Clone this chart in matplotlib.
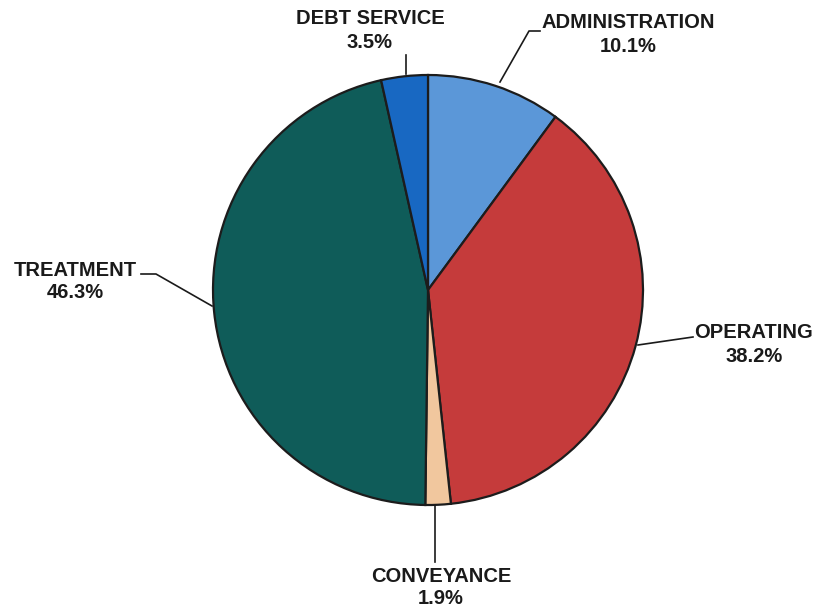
import matplotlib
matplotlib.use("Agg")
import matplotlib.pyplot as plt

categories = ["ADMINISTRATION", "OPERATING", "CONVEYANCE", "TREATMENT", "DEBT SERVICE"]
values = [10.1, 38.2, 1.9, 46.3, 3.5]
colors = ["#5B97D8", "#C53B3B", "#F1C79E", "#0F5C59", "#1868C2"]

W, H = 823, 607
fig = plt.figure(figsize=(W / 100, H / 100), dpi=100)
ax = fig.add_axes([0, 0, 1, 1])

cx, cy, r = 428, H - 290, 215
ax.pie(values, colors=colors, startangle=90, counterclock=False,
       center=(cx, cy), radius=r, frame=True,
       wedgeprops=dict(edgecolor="#1c1c1c", linewidth=1.6))
ax.set_xlim(0, W)
ax.set_ylim(0, H)
ax.set_aspect("equal")
ax.axis("off")

# label positions (pixel coords, y from top) and leader lines
labels = {
    "ADMINISTRATION": ((628, 22), (628, 47), [(500, 82), (529, 31), (540, 31)]),
    "OPERATING": ((754, 332), (754, 357), [(638, 345), (693, 337)]),
    "CONVEYANCE": ((441, 577), (441, 598), [(435, 505), (435, 562)]),
    "TREATMENT": ((75, 270), (75, 293), [(212, 306), (156, 274), (141, 274)]),
    "DEBT SERVICE": ((370, 18), (370, 42), [(406, 74), (406, 55)]),
}
font = dict(family="Liberation Sans", fontweight="bold", fontsize=14.5, color="#1a1a1a",
            ha="center", va="center")
for cat, val in zip(categories, values):
    (x1, y1), (x2, y2), line = labels[cat]
    ax.text(x1, H - y1, cat, **font)
    ax.text(x2, H - y2, f"{val}%", **font)
    xs = [p[0] for p in line]
    ys = [H - p[1] for p in line]
    ax.plot(xs, ys, color="#1a1a1a", linewidth=1.2)

fig.savefig("out.png", dpi=100)
